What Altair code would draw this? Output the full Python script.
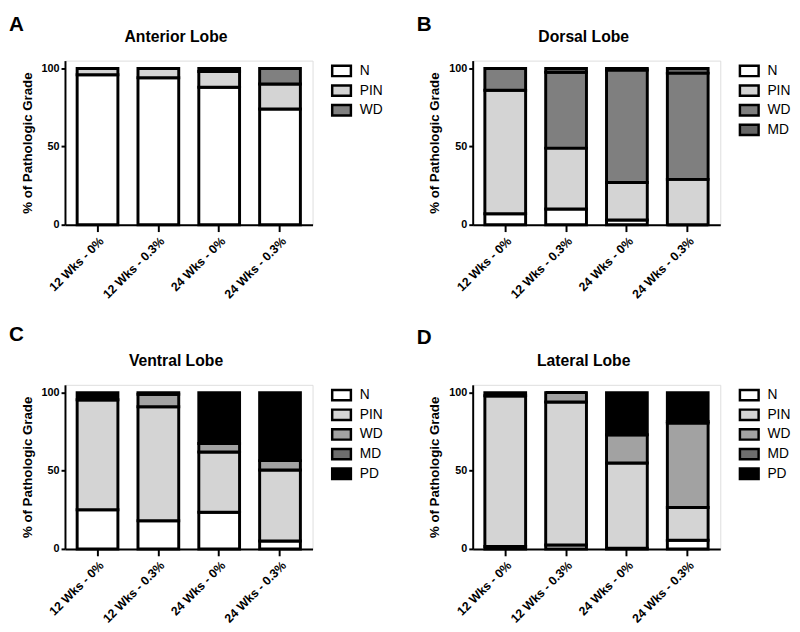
import altair as alt
import pandas as pd

categories = ["12 Wks - 0%", "12 Wks - 0.3%", "24 Wks - 0%", "24 Wks - 0.3%"]

# Panel A - Anterior Lobe
anterior_grades = ["N", "PIN", "WD"]
anterior_colors = ["#ffffff", "#d4d4d4", "#808080"]
anterior_N = [96, 94, 88, 74]
anterior_PIN = [4, 6, 10, 16]
anterior_WD = [0, 0, 2, 10]

# Panel B - Dorsal Lobe
dorsal_grades = ["N", "PIN", "WD", "MD"]
dorsal_colors = ["#ffffff", "#d4d4d4", "#7f7f7f", "#666666"]
dorsal_N = [7, 10, 3, 0]
dorsal_PIN = [79, 39, 24, 29]
dorsal_WD = [14, 48.5, 72, 68]
dorsal_MD = [0, 2.5, 1, 3]

# Panel C - Ventral Lobe
ventral_grades = ["N", "PIN", "WD", "MD", "PD"]
ventral_colors = ["#ffffff", "#d4d4d4", "#a2a2a2", "#6e6e6e", "#000000"]
ventral_N = [25, 18, 23.5, 5]
ventral_PIN = [70.5, 73, 38.5, 45.5]
ventral_WD = [0, 8, 5.5, 6]
ventral_MD = [0, 0, 0, 0]
ventral_PD = [4.5, 1, 32.5, 43.5]

# Panel D - Lateral Lobe
lateral_grades = ["N", "PIN", "WD", "MD", "PD"]
lateral_colors = ["#ffffff", "#d4d4d4", "#a2a2a2", "#6e6e6e", "#000000"]
lateral_N = [1.5, 2.5, 0.5, 5.5]
lateral_PIN = [96.5, 91.5, 54.5, 21]
lateral_WD = [0, 6, 18, 54]
lateral_MD = [0, 0, 0, 1]
lateral_PD = [2, 0, 27, 18.5]

FONT = "Liberation Sans"
W = 252
H = 167


def panel(letter, title, grades, colors, series, letter_y):
    rows = []
    for gi, (g, vals) in enumerate(zip(grades, series)):
        for c, v in zip(categories, vals):
            rows.append({"cat": c, "grade": g, "value": v, "ord": gi})
    df = pd.DataFrame(rows)

    bars = alt.Chart(df).mark_bar(stroke="black", strokeWidth=3).encode(
        x=alt.X(
            "cat:N",
            sort=categories,
            scale=alt.Scale(paddingInner=0.33, paddingOuter=0.2),
            axis=alt.Axis(
                title=None, labelAngle=-45, labelFont=FONT, labelFontSize=12.5,
                labelFontWeight="bold", labelColor="black", labelPadding=3,
                domainColor="black", domainWidth=2, tickColor="black",
                tickWidth=2, tickSize=7,
            ),
        ),
        y=alt.Y(
            "value:Q",
            stack="zero",
            scale=alt.Scale(domain=[0, 105], nice=False),
            axis=alt.Axis(
                values=[0, 50, 100], title="% of Pathologic Grade",
                titleFont=FONT, titleFontSize=13.5, titleFontWeight="bold",
                titleColor="black", titlePadding=7,
                labelFont=FONT, labelFontSize=11, labelFontWeight="bold",
                labelColor="black", labelPadding=2, grid=False,
                domainColor="black", domainWidth=2, tickColor="black",
                tickWidth=2, tickSize=4,
            ),
        ),
        color=alt.Color(
            "grade:N",
            sort=grades,
            scale=alt.Scale(domain=grades, range=colors),
            legend=alt.Legend(
                title=None, orient="none", legendX=W + 20, legendY=1,
                symbolType="M-1.19,-0.66L1.19,-0.66L1.19,0.66L-1.19,0.66Z",
                symbolSize=256, symbolStrokeColor="black",
                symbolStrokeWidth=2.5, symbolOpacity=1,
                labelFont=FONT, labelFontSize=14, labelColor="black",
                labelOffset=9, rowPadding=-1,
            ),
        ),
        order=alt.Order("ord:Q", sort="ascending"),
    )

    tdf = pd.DataFrame({"letter": [letter], "title": [title]})
    letter_mark = alt.Chart(tdf).mark_text(
        font=FONT, fontSize=21, fontWeight="bold", align="left",
        baseline="alphabetic", color="black",
    ).encode(text="letter:N", x=alt.value(-57), y=alt.value(letter_y))
    title_mark = alt.Chart(tdf).mark_text(
        font=FONT, fontSize=16, fontWeight="bold", align="center",
        baseline="alphabetic", color="black",
    ).encode(text="title:N", x=alt.value(W / 2 - 13), y=alt.value(-19))

    return alt.layer(bars, letter_mark, title_mark).properties(width=W, height=H)


pA = panel("A", "Anterior Lobe", anterior_grades, anterior_colors,
           [anterior_N, anterior_PIN, anterior_WD], -30)
pB = panel("B", "Dorsal Lobe", dorsal_grades, dorsal_colors,
           [dorsal_N, dorsal_PIN, dorsal_WD, dorsal_MD], -30)
pC = panel("C", "Ventral Lobe", ventral_grades, ventral_colors,
           [ventral_N, ventral_PIN, ventral_WD, ventral_MD, ventral_PD], -45)
pD = panel("D", "Lateral Lobe", lateral_grades, lateral_colors,
           [lateral_N, lateral_PIN, lateral_WD, lateral_MD, lateral_PD], -42)

top = alt.hconcat(pA, pB, spacing=32).resolve_scale(
    color="independent", x="independent", y="independent"
).resolve_legend(color="independent")
bottom = alt.hconcat(pC, pD, spacing=32).resolve_scale(
    color="independent", x="independent", y="independent"
).resolve_legend(color="independent")

chart = alt.vconcat(top, bottom, spacing=22).resolve_scale(
    color="independent", x="independent", y="independent"
).resolve_legend(color="independent").properties(
    padding={"left": 0, "top": 0, "right": 0, "bottom": 0}
).configure_view(stroke=None).configure(background="white")

chart.save("out.html", embed_options={"renderer": "svg", "actions": False})
